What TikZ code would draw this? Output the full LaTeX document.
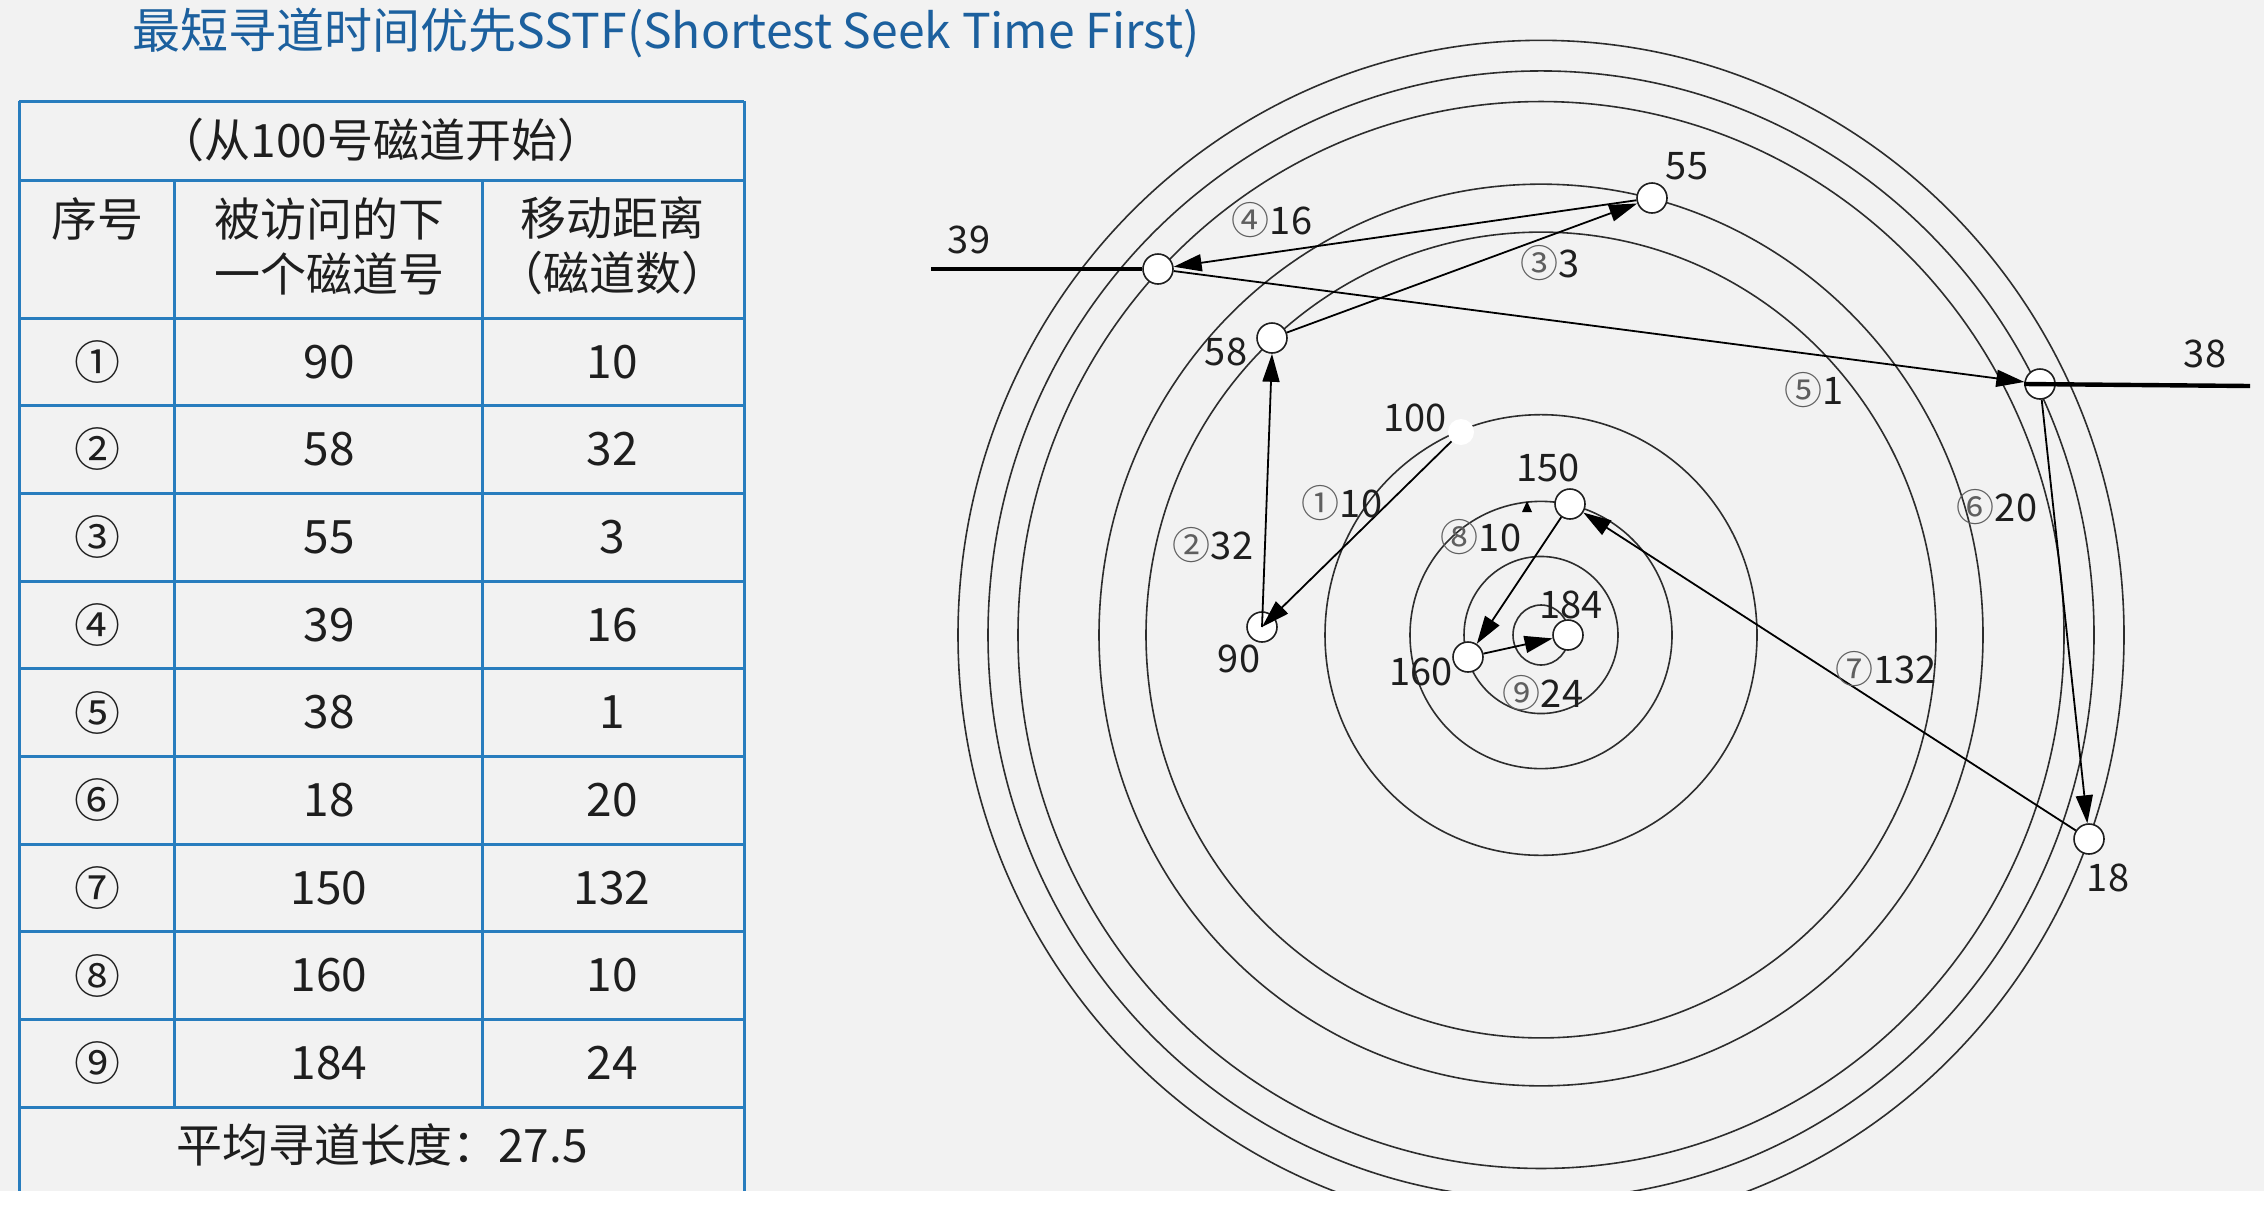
\documentclass[tikz,border=0pt]{standalone}
\usepackage{fontspec}
\setmainfont{Noto Sans CJK SC}
\usetikzlibrary{arrows.meta}
\definecolor{bg}{RGB}{242,242,242}
\definecolor{titleblue}{RGB}{28,96,158}
\definecolor{tblue}{RGB}{40,125,190}
\definecolor{ink}{RGB}{30,30,30}
\definecolor{ringc}{RGB}{45,45,45}
\definecolor{cgray}{RGB}{95,95,95}
\tikzset{
  ring/.style={draw=ringc, line width=0.8pt},
  trk/.style={circle, draw=ink, line width=0.8pt, fill=white, minimum size=15pt, inner sep=0pt},
  startblob/.style={circle, fill=white, minimum size=13pt, inner sep=0pt},
  seek/.style={draw=black, line width=0.9pt, -{Triangle[length=14pt,width=8.5pt]}},
  heavy/.style={draw=black, line width=2.2pt},
  lbl/.style={font=\fontsize{19pt}{22pt}\selectfont, text=ink, inner sep=0pt},
  tline/.style={draw=tblue, line width=1.5pt},
  tcell/.style={font=\fontsize{23pt}{27.5pt}\selectfont, text=ink, inner sep=0pt, align=center},
}
\newcommand{\cnum}[1]{{\color{cgray}#1}}
\begin{document}
\begin{tikzpicture}[x=0.5pt,y=-0.5pt]
\useasboundingbox (0,0) rectangle (2264,1216);
\fill[bg] (0,0) rectangle (2264,1216);

% title
\node[anchor=west, inner sep=0pt, text=titleblue, font=\fontsize{24pt}{28pt}\selectfont] (title) at (132,33)
  {最短寻道时间优先SSTF(Shortest Seek Time First)};

% ---------- table ----------
\draw[tline] (19,101) -- (744,101);
\draw[tline] (19,101) -- (19,1191);
\draw[tline] (744,101) -- (744,1191);
\draw[tline] (19,180) -- (744,180);
\foreach \yy in {318,405.7,493.3,581,668.7,756.3,844,931.7,1019.3,1107}
  \draw[tline] (19,\yy) -- (744,\yy);
\draw[tline] (174,180) -- (174,1107);
\draw[tline] (482,180) -- (482,1107);

\node[tcell] (thead) at (381,140) {（从100号磁道开始）};
\node[tcell] (th1) at (97,219) {序号};
\node[tcell] (th2) at (329,246) {被访问的下\\一个磁道号};
\node[tcell] (th3) at (612,246) {移动距离\\（磁道数）};
\foreach \i/\c/\t/\d in {1/①/90/10, 2/②/58/32, 3/③/55/3, 4/④/39/16, 5/⑤/38/1, 6/⑥/18/20, 7/⑦/150/132, 8/⑧/160/10, 9/⑨/184/24} {
  \pgfmathsetmacro\yy{318+87.67*(\i-0.5)}
  \node[tcell] (ta\i) at (97,\yy) {\c};
  \node[tcell] (tb\i) at (329,\yy) {\t};
  \node[tcell] (tc\i) at (612,\yy) {\d};
}
\node[tcell] (tavg) at (382,1145) {平均寻道长度：27.5};

% ---------- disk tracks ----------
\draw[ring] (1541,635) ellipse [x radius=28, y radius=30];
\foreach \r in {77,131,216,395,442,523,553,583}
  \draw[ring] (1541,635) ellipse [x radius=\r, y radius={1.02*\r}];

% track nodes
\node[trk] (n55)  at (1652,198) {};
\node[trk] (n39)  at (1158,269) {};
\node[trk] (n58)  at (1272,338) {};
\node[trk] (n38)  at (2040,384) {};
\node[startblob] (n100) at (1461,432) {};
\node[trk] (n150) at (1570,504) {};
\node[trk] (n90)  at (1262,627) {};
\node[trk] (n184) at (1568,635) {};
\node[trk] (n160) at (1468,657) {};
\node[trk] (n18)  at (2089,839) {};

% heavy end lines
\coordinate (w39) at (931,269);
\coordinate (e38) at (2250,386);
\draw[heavy] (w39) -- (n39.west);
\draw[heavy] (n38.west) -- (e38);

% seek arrows
\draw[seek] (n100) -- (n90.center);
\draw[seek] (n90.center) -- (n58.south);
\draw[seek] (n58) -- (n55);
\draw[seek] (n55) -- (n39);
\draw[seek] (n39) -- (n38);
\draw[seek] (n38) -- (n18);
\draw[seek] (n18) -- (n150);
\draw[seek] (n150) -- (n160);
\draw[seek] (n160) -- (n184);
\fill[black] (1522,512) -- (1532,512) -- (1527,501) -- cycle;

% track labels
\node[lbl] (l55)  at (1687,166) {55};
\node[lbl] (l39)  at (969,240)  {39};
\node[lbl] (l58)  at (1226,352) {58};
\node[lbl] (l38)  at (2205,354) {38};
\node[lbl] (l100) at (1415,418) {100};
\node[lbl] (l150) at (1548,468) {150};
\node[lbl] (l90)  at (1239,659) {90};
\node[lbl] (l184) at (1571,605) {184};
\node[lbl] (l160) at (1421,672) {160};
\node[lbl] (l18)  at (2108,878) {18};

% seek distance labels
\node[lbl] (d4) at (1272,220) {\cnum{④}16};
\node[lbl] (d3) at (1550,263) {\cnum{③}3};
\node[lbl] (d5) at (1814,390) {\cnum{⑤}1};
\node[lbl] (d1) at (1342,503) {\cnum{①}10};
\node[lbl] (d2) at (1213,545) {\cnum{②}32};
\node[lbl] (d8) at (1481,537) {\cnum{⑧}10};
\node[lbl] (d6) at (1997,507) {\cnum{⑥}20};
\node[lbl] (d7) at (1886,669) {\cnum{⑦}132};
\node[lbl] (d9) at (1543,693) {\cnum{⑨}24};

% white strip at the bottom
\fill[white] (-20,1191) rectangle (2284,1260);
\end{tikzpicture}
\end{document}
